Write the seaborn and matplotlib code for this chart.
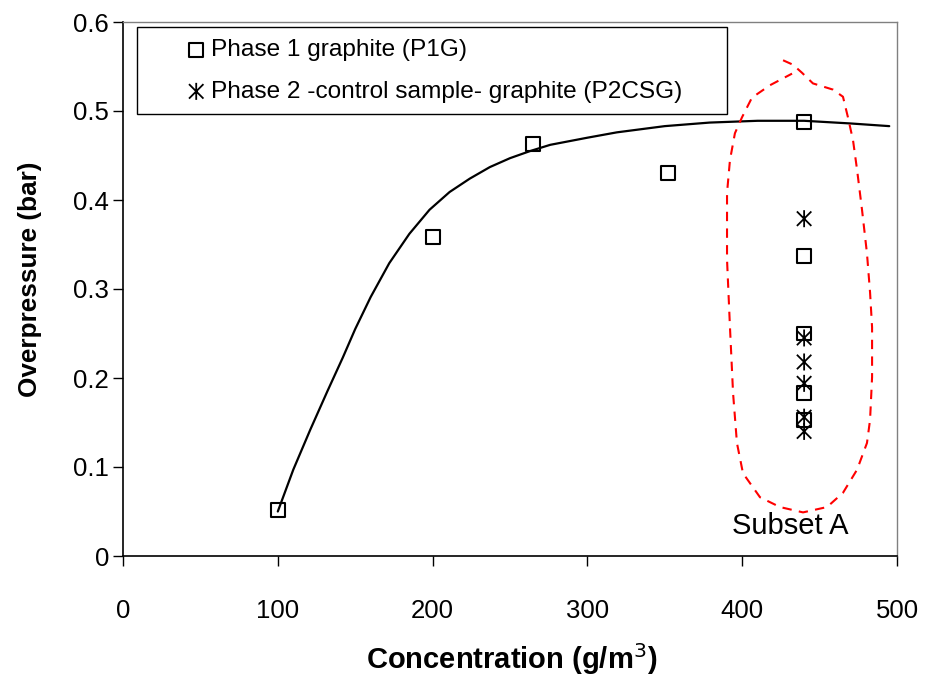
import numpy as np
import pandas as pd
import seaborn as sns
import matplotlib
matplotlib.use("Agg")
import matplotlib.pyplot as plt
from matplotlib.path import Path
from matplotlib.patches import Rectangle

# ---- data ----
p1g_x = [100, 200, 265, 352, 440, 440, 440, 440, 440]
p1g_y = [0.052, 0.358, 0.463, 0.430, 0.488, 0.337, 0.250, 0.183, 0.153]

p2csg_x = [440, 440, 440, 440, 440, 440]
p2csg_y = [0.379, 0.245, 0.218, 0.194, 0.156, 0.140]

# fitted trend line
fit_x = [100, 110, 121, 132, 142, 150, 160, 172, 185, 198, 211, 224, 237, 250, 263, 276, 300, 319, 350, 379,
         410, 440, 470, 495]
fit_y = [0.050, 0.097, 0.142, 0.185, 0.223, 0.255, 0.291, 0.329, 0.362, 0.389, 0.409, 0.424, 0.437, 0.447,
         0.455, 0.462, 0.470, 0.476, 0.483, 0.487, 0.489, 0.489, 0.486, 0.483]

# "Subset A" outline
subset_x = [426.4, 432.8, 438.6, 445.7, 458.7, 465.1, 468.3, 471.6, 474.2, 477.4, 480.6, 482.6, 483.9, 483.9,
            482.6, 480.6, 474.2, 465.1, 454.8, 439.3, 424.4, 411.5, 400.5, 396.6, 394.1, 392.1, 390.2, 390.2,
            392.1, 395.3, 399.9, 406.3, 418.0, 432.2]
subset_y = [0.557, 0.552, 0.543, 0.531, 0.524, 0.516, 0.493, 0.467, 0.434, 0.389, 0.340, 0.296, 0.257, 0.201,
            0.153, 0.127, 0.097, 0.071, 0.055, 0.049, 0.055, 0.066, 0.093, 0.127, 0.183, 0.257, 0.333, 0.408,
            0.445, 0.475, 0.493, 0.515, 0.529, 0.542]

x_ticks = [0, 100, 200, 300, 400, 500]
y_ticks = [0, 0.1, 0.2, 0.3, 0.4, 0.5, 0.6]
y_ticklabels = ["0", "0.1", "0.2", "0.3", "0.4", "0.5", "0.6"]

sns.set_style("white")
plt.rcParams["font.family"] = ["Liberation Sans", "DejaVu Sans"]
plt.rcParams["text.color"] = "black"
plt.rcParams["axes.labelcolor"] = "black"
plt.rcParams["xtick.color"] = "black"
plt.rcParams["ytick.color"] = "black"

fig = plt.figure(figsize=(9.27, 6.77), dpi=100)
ax = fig.add_axes([123 / 927, 1 - 556 / 677, 774 / 927, 534 / 677])

# trend line
sns.lineplot(x=fit_x, y=fit_y, ax=ax, color="black", linewidth=1.6, estimator=None, sort=False, legend=False)

# subset outline
ax.plot(subset_x, subset_y, color="red", linewidth=1.5, dashes=(4.5, 3.5), zorder=2)

# markers
star = Path([(0, -1), (0, 1), (-0.85, -0.85), (0.85, 0.85), (-0.85, 0.85), (0.85, -0.85)],
            [Path.MOVETO, Path.LINETO, Path.MOVETO, Path.LINETO, Path.MOVETO, Path.LINETO])

sns.scatterplot(x=p1g_x, y=p1g_y, ax=ax, marker="s", s=100, facecolors="none",
                edgecolor="black", linewidth=1.5, label="Phase 1 graphite (P1G)", zorder=4)
sns.scatterplot(x=p2csg_x, y=p2csg_y, ax=ax, marker=star, s=150, facecolors="none",
                edgecolor="black", linewidth=1.3, label="Phase 2 -control sample- graphite (P2CSG)", zorder=4)

ax.set_xlim(0, 500)
ax.set_ylim(0, 0.6)
ax.set_xticks(x_ticks)
ax.set_xticklabels([str(v) for v in x_ticks])
ax.set_yticks(y_ticks)
ax.set_yticklabels(y_ticklabels)

ax.tick_params(axis="x", direction="out", length=7, width=1, pad=24, labelsize=18.5, colors="black")
ax.tick_params(axis="y", direction="out", length=7, width=1, pad=3, labelsize=18.5, colors="black")
ax.tick_params(bottom=True, left=True)

for side in ["left", "bottom"]:
    ax.spines[side].set_color("black")
    ax.spines[side].set_linewidth(1.2)
for side in ["top", "right"]:
    ax.spines[side].set_color("#808080")
    ax.spines[side].set_linewidth(1.0)

ax.set_xlabel("Concentration (g/m$^3$)", fontsize=21, fontweight="bold", color="black", va="center")
ax.set_ylabel("Overpressure (bar)", fontsize=18.8, fontweight="bold", color="black")
ax.xaxis.set_label_coords(0.502, -(659 - 556) / 534)
ax.yaxis.set_label_coords(-(123 - 42) / 774, (556 - 279) / 534)

# legend
leg = ax.legend(loc="upper left", bbox_to_anchor=((184 - 123) / 774, (556 - 39) / 534),
                frameon=False, fontsize=17.6, handlelength=1.0, handletextpad=0.12,
                labelspacing=0.8, borderpad=0, borderaxespad=0)
for t in leg.get_texts():
    t.set_color("black")
ax.add_patch(Rectangle(((137 - 123) / 774, (556 - 114) / 534), (727 - 137) / 774, (114 - 27) / 534,
                       transform=ax.transAxes, fill=False, edgecolor="black", linewidth=1.0, zorder=3))

ax.text(431, 0.034, "Subset A", fontsize=21, ha="center", va="center", color="black")

fig.savefig("out.png", dpi=100)
